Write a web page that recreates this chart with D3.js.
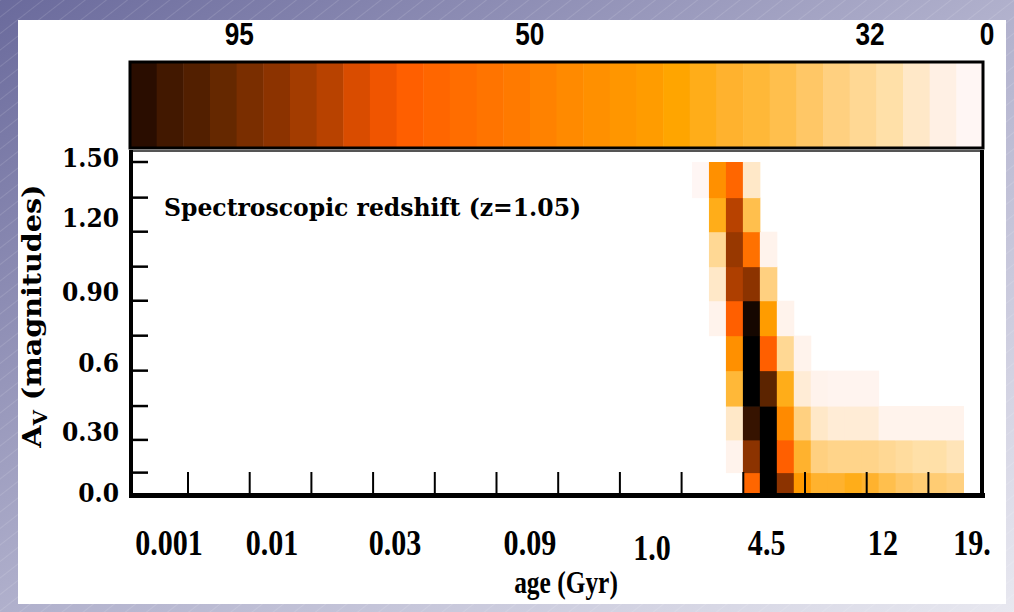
<!DOCTYPE html>
<html>
<head>
<meta charset="utf-8">
<script src="https://cdn.jsdelivr.net/npm/d3@7"></script>
<style>
  html, body { margin: 0; padding: 0; background: #fff; }
  svg { display: block; }
</style>
</head>
<body>
<svg id="chart" width="1014" height="612"></svg>
<script>
// ---- data ----------------------------------------------------------------
// Colour levels, lightest (0) to darkest (32)
const levelColors = [
  "#fff6f4", "#fff0e4", "#ffe8c8", "#ffe0a8", "#ffd894", "#ffd080", "#ffc766",
  "#ffbf4d", "#ffb838", "#ffb22e", "#ffad19", "#ffa500", "#ff9c00", "#ff9600",
  "#ff9000", "#ff8a00", "#ff8200", "#ff7a00", "#ff7400", "#ff6d00", "#ff6600",
  "#ff5f00", "#f05500", "#d94c00", "#b84200", "#a33c00", "#8c3300", "#7a2e00",
  "#652800", "#521f00", "#421800", "#2a0d00", "#000000"
];
const colorbarLevels = d3.range(31, -1, -1);          // swatches shown, dark -> light
const colorbarTickLabels = ["95", "50", "32", "0"];
const colorbarTickLevels = [27.9, 17.0, 4.24, -0.15];

// A_V bin edges (magnitudes), bottom row first
const avEdges = [0, 0.096, 0.243, 0.395, 0.554, 0.711, 0.868, 1.021, 1.178, 1.331, 1.491];
const yTickLabels = ["0.0", "0.30", "0.6", "0.90", "1.20", "1.50"];
const yTickPos = [0.004, 0.278, 0.588, 0.907, 1.239, 1.509];

// age bins (column index); axis labels and minor ticks in bin units
const ageBinCount = 50.15;
const xTickLabels = ["0.001", "0.01", "0.03", "0.09", "1.0", "4.5", "12", "19."];
const xTickPos = [2.18, 8.25, 15.5, 23.45, 30.64, 37.4, 44.25, 49.5];
const xTickDrop = [0, 0, 0, 0, 5, 0, 0, 0];
const xMinorTicks = d3.range(13).map(k => 3.3 + k * 3.636);

// likelihood level per cell: first age bin of each A_V row, then the levels
const rowFirstBin = [36, 35, 35, 35, 35, 34, 34, 34, 34, 33];
const rowLevels = [
  [20, 32.5, 26, 12.5, 9, 9, 10, 9, 7, 6, 5.5, 5.5, 5],
  [0.5, 26, 32.5, 21, 9, 5, 4.5, 4.5, 4.5, 4, 3.5, 3, 3, 2.5],
  [2, 30.5, 32, 15, 5, 2, 1.5, 1.5, 1.5, 0.5, 0.5, 0.5, 0.5, 0.5],
  [8, 32, 28.5, 10, 1.5, 0.5, 0.3, 0.3, 0.3],
  [14, 32, 21, 4, 0.5],
  [0.5, 21, 31.5, 12, 0.5],
  [2, 24.5, 26, 5],
  [4, 25.5, 18.5, 0.5],
  [10, 24, 7],
  [0, 14, 20, 2]
];

// ---- drawing -------------------------------------------------------------
const svg = d3.select("#chart");
const defs = svg.append("defs");

const bg = defs.append("linearGradient").attr("id", "bgGrad")
  .attr("x1", 0).attr("y1", 0).attr("x2", 1).attr("y2", 1);
bg.append("stop").attr("offset", 0).attr("stop-color", "#6a6a9c");
bg.append("stop").attr("offset", 0.5).attr("stop-color", "#b0b0cc");
bg.append("stop").attr("offset", 1).attr("stop-color", "#e8e8f0");

const hatch = defs.append("pattern").attr("id", "hatch")
  .attr("patternUnits", "userSpaceOnUse").attr("width", 13).attr("height", 13)
  .attr("patternTransform", "rotate(52)");
hatch.append("line").attr("x1", 0).attr("y1", 0).attr("x2", 0).attr("y2", 13)
  .attr("stroke", "#ffffff").attr("stroke-opacity", 0.25).attr("stroke-width", 1);

svg.append("rect").attr("width", 1014).attr("height", 612).attr("fill", "url(#bgGrad)");
svg.append("rect").attr("width", 1014).attr("height", 612).attr("fill", "url(#hatch)");
svg.append("rect").attr("x", 18).attr("y", 20).attr("width", 988).attr("height", 584).attr("fill", "#ffffff");

const x = d3.scaleLinear().domain([0, ageBinCount]).range([132, 983]);
const y = d3.scaleLinear().domain([0, 1.5]).range([494, 160]);
const color = d3.scaleLinear().domain(d3.range(levelColors.length)).range(levelColors).clamp(true);

// heat-map cells
const cells = [];
rowLevels.forEach((levels, r) => {
  levels.forEach((v, i) => cells.push({ bin: rowFirstBin[r] + i, row: r, v }));
});
svg.append("g").selectAll("rect").data(cells).join("rect")
  .attr("x", d => x(d.bin))
  .attr("width", d => x(d.bin + 1) - x(d.bin) + 0.5)
  .attr("y", d => y(avEdges[d.row + 1]))
  .attr("height", d => y(avEdges[d.row]) - y(avEdges[d.row + 1]) + 0.5)
  .attr("fill", d => color(d.v));

// colour bar
const cb = d3.scaleLinear().domain([32, 0]).range([130, 983]);
svg.append("g").selectAll("rect").data(colorbarLevels).join("rect")
  .attr("x", d => cb(d + 1)).attr("width", d => cb(d) - cb(d + 1) + 0.5)
  .attr("y", 62).attr("height", 86)
  .attr("fill", d => color(d));
svg.append("rect").attr("x", cb(32)).attr("y", 62).attr("width", cb(0) - cb(32)).attr("height", 86)
  .attr("fill", "none").attr("stroke", "#000").attr("stroke-width", 3);

svg.append("g").selectAll("text").data(colorbarTickLabels).join("text")
  .attr("transform", (d, i) => `translate(${cb(colorbarTickLevels[i])},45) scale(0.82,1)`)
  .attr("text-anchor", "middle")
  .attr("font-family", "Liberation Sans, Arial, sans-serif")
  .attr("font-weight", "bold").attr("font-size", 32)
  .attr("fill", "#000")
  .text(d => d);

// frame
const frame = svg.append("g").attr("stroke", "#000").attr("fill", "none");
frame.append("line").attr("x1", 130).attr("x2", 983).attr("y1", 151).attr("y2", 151)
  .attr("stroke", "#555").attr("stroke-width", 2);
frame.append("line").attr("x1", 131).attr("x2", 131).attr("y1", 150).attr("y2", 497).attr("stroke-width", 4);
frame.append("line").attr("x1", 982).attr("x2", 982).attr("y1", 150).attr("y2", 497).attr("stroke-width", 4);
frame.append("line").attr("x1", 129).attr("x2", 985).attr("y1", 495.5).attr("y2", 495.5).attr("stroke-width", 5);

// y ticks at bin edges
svg.append("g").selectAll("line").data(avEdges.slice(1)).join("line")
  .attr("x1", 131).attr("x2", 148)
  .attr("y1", d => y(d)).attr("y2", d => y(d))
  .attr("stroke", "#000").attr("stroke-width", 2.5);

// x minor ticks
svg.append("g").selectAll("line").data(xMinorTicks).join("line")
  .attr("x1", d => x(d)).attr("x2", d => x(d))
  .attr("y1", 472).attr("y2", 494)
  .attr("stroke", "#000").attr("stroke-width", 2);

// y tick labels
svg.append("g").selectAll("text").data(yTickLabels).join("text")
  .attr("transform", (d, i) => `translate(119,${y(yTickPos[i])}) scale(0.9,1)`)
  .attr("dy", "0.36em")
  .attr("text-anchor", "end")
  .attr("font-family", "DejaVu Serif, serif")
  .attr("font-weight", "bold").attr("font-size", 26)
  .attr("fill", "#000")
  .text(d => d);

// x tick labels
svg.append("g").selectAll("text").data(xTickLabels).join("text")
  .attr("transform", (d, i) => `translate(${x(xTickPos[i])},${555 + xTickDrop[i]}) scale(0.86,1)`)
  .attr("text-anchor", "middle")
  .attr("font-family", "Liberation Serif, Times New Roman, serif")
  .attr("font-weight", "bold").attr("font-size", 35)
  .attr("fill", "#000")
  .text(d => d);

// axis titles
svg.append("text")
  .attr("transform", "translate(566,593) scale(0.82,1)")
  .attr("text-anchor", "middle")
  .attr("font-family", "Liberation Serif, Times New Roman, serif")
  .attr("font-weight", "bold").attr("font-size", 31)
  .attr("fill", "#000")
  .text("age (Gyr)");

const yTitle = svg.append("text")
  .attr("transform", "translate(41,316) rotate(-90) scale(1.1,1)")
  .attr("text-anchor", "middle")
  .attr("font-family", "DejaVu Serif, serif")
  .attr("font-weight", "bold").attr("font-size", 26)
  .attr("fill", "#000");
yTitle.append("tspan").text("A");
yTitle.append("tspan").attr("font-size", 18).attr("dy", 6).text("V");
yTitle.append("tspan").attr("dy", -6).text(" (magnitudes)");

// annotation
svg.append("text")
  .attr("transform", "translate(164,216) scale(0.94,1)")
  .attr("font-family", "DejaVu Serif, serif")
  .attr("font-weight", "bold").attr("font-size", 25)
  .attr("fill", "#000")
  .text("Spectroscopic redshift (z=1.05)");
</script>
</body>
</html>
